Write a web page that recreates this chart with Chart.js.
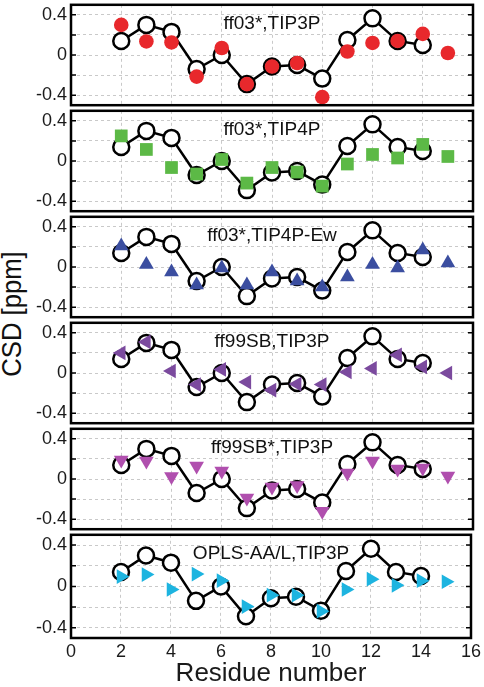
<!DOCTYPE html>
<html>
<head>
<meta charset="utf-8">
<script src="https://cdn.jsdelivr.net/npm/chart.js@4.4.1/dist/chart.umd.min.js"></script>
<style>
  body { margin: 0; background: #fff; }
  #wrap { position: relative; width: 484px; height: 687px; overflow: hidden; background: #fff; }
  .panel { position: absolute; left: 0; }
  #ytitle {
    position: absolute; left: -58px; top: 299px; width: 140px; height: 30px;
    line-height: 30px; text-align: center; color: #111;
    font-family: "Liberation Sans", Arial, sans-serif; font-size: 27px;
    transform: rotate(-90deg) scaleX(0.95);
  }
</style>
</head>
<body>
<div id="wrap">
  <div id="ytitle">CSD [ppm]</div>
</div>
<script>
// experiment (open circles + line), residues 2..14
const expResidues = [2, 3, 4, 5, 6, 7, 8, 9, 10, 11, 12, 13, 14];
const expCsd = [0.14, 0.30, 0.23, -0.14, 0.0, -0.29, -0.115, -0.10, -0.235, 0.15, 0.365, 0.14, 0.10];

// simulations, residues 2..15
const simResidues = [2, 3, 4, 5, 6, 7, 8, 9, 10, 11, 12, 13, 14, 15];
const ff03Tip3p   = [0.30, 0.135, 0.125, -0.215, 0.07, -0.29, -0.115, -0.08, -0.42, 0.035, 0.12, 0.14, 0.21, 0.02];
const ff03Tip4p   = [0.25, 0.115, -0.065, -0.13, 0.015, -0.22, -0.065, -0.11, -0.25, -0.03, 0.065, 0.03, 0.165, 0.045];
const ff03Tip4pEw = [0.21, 0.025, -0.05, -0.18, -0.01, -0.18, -0.05, -0.14, -0.20, -0.10, 0.025, -0.01, 0.17, 0.04];
const ff99sbTip3p = [0.20, 0.31, 0.02, -0.115, 0.035, -0.09, -0.17, -0.11, -0.115, 0.01, 0.045, 0.18, 0.06, 0.0];
const ff99sbsTip3p = [0.19, 0.18, 0.025, 0.13, 0.08, -0.19, -0.08, -0.065, -0.32, 0.06, 0.18, 0.10, 0.11, 0.03];
const oplsTip3p   = [0.095, 0.115, -0.03, 0.12, 0.055, -0.195, -0.085, -0.085, -0.24, -0.03, 0.07, 0.01, 0.055, 0.045];

const simSeries = [ff03Tip3p, ff03Tip4p, ff03Tip4pEw, ff99sbTip3p, ff99sbsTip3p, oplsTip3p];
const panelLabels = ['ff03*,TIP3P', 'ff03*,TIP4P', 'ff03*,TIP4P-Ew', 'ff99SB,TIP3P', 'ff99SB*,TIP3P', 'OPLS-AA/L,TIP3P'];
const xTicks = [0, 2, 4, 6, 8, 10, 12, 14, 16];
const yTicks = [-0.4, -0.2, 0, 0.2, 0.4];
const yTickLabels = [-0.4, 0, 0.4];

// marker styles per panel
const colors = ['#e8282c', '#5cb946', '#3b4ea0', '#7b4a9e', '#b04fae', '#1db4e0'];
const markers = ['circle', 'rect', 'triangle', 'triangle', 'triangle', 'triangle'];
const rotations = [0, 0, 0, -90, 180, 90];
const radii = [7.3, 9, 8.5, 8.5, 8.5, 8.5];

const FONT = '"Liberation Sans", Arial, sans-serif';
Chart.defaults.font.family = FONT;
Chart.defaults.color = '#1a1a1a';

const PANEL_TOP = 2, PANEL_H = 106, PAD = 12, PLOT_LEFT = 71, PAD_RIGHT = 11;

const framePlugin = {
  id: 'frame',
  afterDraw(chart, args, opts) {
    const { ctx, chartArea: a } = chart;
    const ys = chart.scales.y;
    ctx.save();
    ctx.strokeStyle = '#000';
    ctx.lineWidth = 1.5;
    ctx.beginPath();
    yTicks.forEach(v => {
      const py = ys.getPixelForValue(v);
      ctx.moveTo(a.left, py); ctx.lineTo(a.left + 5, py);
      ctx.moveTo(a.right, py); ctx.lineTo(a.right - 5, py);
    });
    ctx.stroke();
    ctx.lineWidth = 2.5;
    ctx.strokeRect(a.left, a.top, a.right - a.left, a.bottom - a.top);
    ctx.fillStyle = '#111';
    ctx.font = '19px ' + FONT;
    ctx.textAlign = 'center';
    ctx.textBaseline = 'alphabetic';
    ctx.fillText(opts.label, (a.left + a.right) / 2, a.top + 24);
    ctx.restore();
  }
};

const wrap = document.getElementById('wrap');

simSeries.forEach((series, i) => {
  const last = i === simSeries.length - 1;
  const top = PANEL_TOP + i * PANEL_H - PAD;
  const height = last ? 687 - top : PANEL_H + 2 * PAD;
  const canvas = document.createElement('canvas');
  canvas.className = 'panel';
  canvas.width = 484;
  canvas.height = height;
  canvas.style.top = top + 'px';
  wrap.appendChild(canvas);

  new Chart(canvas, {
    type: 'scatter',
    data: {
      datasets: [
        {
          data: simResidues.map((x, k) => ({ x: x, y: series[k] })),
          pointStyle: markers[i],
          rotation: rotations[i],
          pointRadius: radii[i],
          backgroundColor: colors[i],
          borderColor: colors[i],
          borderWidth: 0,
          clip: false,
          order: 1
        },
        {
          data: expResidues.map((x, k) => ({ x: x, y: expCsd[k] })),
          showLine: true,
          borderColor: '#000',
          borderWidth: 2.5,
          pointRadius: 8,
          pointBorderWidth: 2.5,
          pointBorderColor: '#000',
          pointBackgroundColor: '#fff',
          clip: false,
          order: 2
        }
      ]
    },
    options: {
      responsive: false,
      animation: false,
      events: [],
      layout: { padding: { top: PAD, bottom: last ? 0 : PAD, left: 0, right: PAD_RIGHT } },
      plugins: {
        legend: { display: false },
        tooltip: { enabled: false },
        frame: { label: panelLabels[i] }
      },
      scales: {
        x: {
          type: 'linear', min: 0, max: 16,
          afterBuildTicks: s => { s.ticks = xTicks.map(v => ({ value: v })); },
          grid: { color: '#c9c9c9', lineWidth: 1, drawTicks: false },
          border: { display: false, dash: [3, 3] },
          ticks: { display: last, padding: 3, font: { size: 18 }, maxRotation: 0 },
          title: { display: last, text: 'Residue number', font: { size: 26, lineHeight: 1 }, padding: { top: 0, bottom: 0 } },
          afterFit: s => { s.height = last ? 49 : 0; }
        },
        y: {
          min: -0.5, max: 0.5,
          afterBuildTicks: s => { s.ticks = yTicks.map(v => ({ value: v })); },
          grid: { color: '#c9c9c9', lineWidth: 1, drawTicks: false },
          border: { display: false, dash: [3, 3] },
          ticks: {
            padding: 4, font: { size: 18 },
            callback: v => yTickLabels.some(t => Math.abs(t - v) < 1e-9) ? String(Math.round(v * 10) / 10) : ''
          },
          afterFit: s => { s.width = PLOT_LEFT; }
        }
      }
    },
    plugins: [framePlugin]
  });
});
</script>
</body>
</html>
